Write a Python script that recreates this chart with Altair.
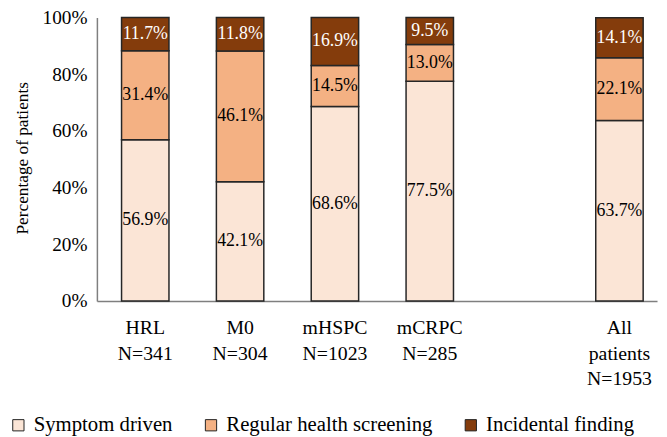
import altair as alt
import pandas as pd

categories = ["HRL", "M0", "mHSPC", "mCRPC", "All"]
cat_labels = [["HRL", "N=341"], ["M0", "N=304"], ["mHSPC", "N=1023"], ["mCRPC", "N=285"], ["All", "patients", "N=1953"]]
sources = ["Symptom driven", "Regular health screening", "Incidental finding"]
symptom = [56.9, 42.1, 68.6, 77.5, 63.7]
regular = [31.4, 46.1, 14.5, 13.0, 22.1]
incidental = [11.7, 11.8, 16.9, 9.5, 14.1]
colors = ["#FBE5D6", "#F4B183", "#843C0C"]
y_ticks = [0, 20, 40, 60, 80, 100]

rows = []
for series_idx, (name, vals) in enumerate(zip(sources, [symptom, regular, incidental])):
    for cat, v in zip(categories, vals):
        rows.append({"cat": cat, "source": name, "ord": series_idx, "value": v})
df = pd.DataFrame(rows)

domain = categories[:4] + [" "] + categories[4:]
label_map = ", ".join(
    f"'{c}': [{', '.join(repr(s) for s in lab)}]" for c, lab in zip(categories, cat_labels)
)
label_expr = "{" + label_map + "}[datum.value] || ''"

FONT = "Liberation Serif, Times New Roman, serif"

base = alt.Chart(df).transform_stack(
    stack="value", groupby=["cat"], sort=[alt.SortField("ord", order="ascending")], as_=["y0", "y1"]
).transform_calculate(
    mid="(datum.y0 + datum.y1) / 2",
    lbl="format(datum.value, '.1f') + '%'",
)

xscale = alt.Scale(domain=domain, paddingInner=0.5, paddingOuter=0.203, align=0.64)

x_enc = alt.X(
    "cat:N",
    scale=xscale,
    axis=alt.Axis(
        title=None,
        labelExpr=label_expr,
        labelAngle=0,
        labelFont=FONT,
        labelFontSize=20,
        labelLineHeight=26,
        labelPadding=17,
        labelBaseline="top",
        ticks=False,
        domainColor="#7f7f7f",
        domainWidth=1.5,
    ),
)

bars = base.mark_bar(stroke="#262626", strokeWidth=1.5).encode(
    x=x_enc,
    y=alt.Y(
        "y0:Q",
        scale=alt.Scale(domain=[0, 100], nice=False),
        axis=alt.Axis(
            values=y_ticks,
            labelExpr="datum.value + '%'",
            labelFont=FONT,
            labelFontSize=19.5,
            labelPadding=10,
            ticks=False,
            grid=False,
            domainColor="#7f7f7f",
            domainWidth=1.5,
            title="Percentage of patients",
            titleFont=FONT,
            titleFontSize=17.5,
            titleFontWeight="normal",
            titleAngle=-90,
            titleAlign="center",
            titleBaseline="middle",
            titleX=-75,
            titleY=142,
        ),
    ),
    y2="y1:Q",
    color=alt.Color(
        "source:N",
        scale=alt.Scale(domain=sources, range=colors),
        legend=alt.Legend(
            title=None,
            orient="none",
            direction="horizontal",
            legendX=-90,
            legendY=402,
            symbolType="square",
            symbolSize=130,
            symbolStrokeColor="#222222",
            symbolStrokeWidth=1,
            symbolOpacity=1,
            labelFont=FONT,
            labelFontSize=21,
            labelOffset=5,
            labelLimit=0,
            columnPadding=28,
            padding=0,
        ),
    ),
    order=alt.Order("ord:Q"),
)

texts = base.mark_text(fontSize=18, font=FONT).encode(
    x=alt.X("cat:N", scale=xscale),
    y=alt.Y("mid:Q"),
    text="lbl:N",
    color=alt.condition("datum.source == 'Incidental finding'", alt.value("white"), alt.value("black")),
)

chart = alt.layer(bars, texts).properties(
    width=567,
    height=287,
    autosize=alt.AutoSizeParams(type="none"),
    padding={"left": 90, "top": 7, "right": 2, "bottom": 135},
).configure(font=FONT).configure_view(stroke=None).configure_axis(
    labelColor="black", titleColor="black"
).configure_legend(labelColor="black")

chart.save("out.html", embed_options={"renderer": "svg", "actions": False})
